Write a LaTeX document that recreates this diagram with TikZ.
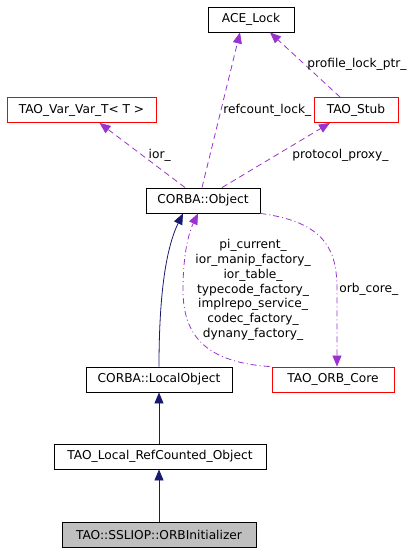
\documentclass[tikz,border=0pt]{standalone}
\usepackage{fontspec}
\setmainfont{DejaVu Sans}
\usetikzlibrary{arrows.meta,positioning,calc}
\definecolor{usecol}{HTML}{9A32CD}
\definecolor{inhcol}{HTML}{191970}

\begin{document}
\begin{tikzpicture}[x=1bp,y=1bp,
		font=\fontsize{12.2bp}{14.8bp}\selectfont,
		>={Triangle[length=11bp,width=9bp]},
		cls/.style={draw,line width=0.9bp,minimum height=25bp,inner sep=0pt},
		refcls/.style={cls,draw=red},
		uses/.style={usecol,line width=0.8bp,dash pattern=on 6bp off 4bp},
		usesdot/.style={usecol,line width=0.8bp,dash pattern=on 6bp off 3bp on 1bp off 3bp},
		inh/.style={inhcol,line width=0.8bp},
		lbl/.style={text=black,inner sep=2bp}]
		\useasboundingbox (0,0) rectangle (415,-552);
		% classes
		\node[cls,minimum width=86bp] (acelock) at (251,-19.5) {ACE\_Lock};
		\node[refcls,minimum width=149bp] (varvar) at (81.5,-110) {TAO\_Var\_Var\_T\textless\ T \textgreater};
		\node[refcls,minimum width=84bp] (stub) at (356,-110) {TAO\_Stub};
		\node[cls,minimum width=114bp] (object) at (203,-200.5) {CORBA::Object};
		\node[cls,minimum width=146bp] (localobj) at (159,-379.5) {CORBA::LocalObject};
		\node[refcls,minimum width=122bp] (orbcore) at (333,-379.5) {TAO\_ORB\_Core};
		\node[cls,minimum width=212bp] (refcounted) at (160,-456.5) {TAO\_Local\_RefCounted\_Object};
		\node[cls,minimum width=194bp,fill=black!25] (orbinit) at (159,-534.5) {TAO::SSLIOP::ORBInitializer};
		% usage
		\draw[uses,->] ([xshift=-1bp]object.north) -- ([xshift=-11bp]acelock.south) node[midway,right,lbl]{refcount\_lock\_};
		\draw[uses,->] ([xshift=-16bp]stub.north) -- ([xshift=19bp]acelock.south) node[midway,right,lbl]{profile\_lock\_ptr\_};
		\draw[uses,->] ([xshift=-18bp]object.north) -- ([xshift=18bp]varvar.south) node[midway,right,lbl,xshift=4bp]{ior\_};
		\draw[uses,->] ([xshift=19bp]object.north) -- ([xshift=-26bp]stub.south) node[midway,right,lbl,xshift=14bp]{protocol\_proxy\_};
		\draw[usesdot,->] (object.south east) .. controls (325,-222) and (337,-250) .. (337,-289)
			node[right,lbl]{orb\_core\_} -- ([xshift=4bp]orbcore.north);
		\draw[usesdot,->] ([xshift=-2bp]orbcore.north west) .. controls (205,-362) and (183,-335) .. (183,-290)
			node[right,lbl,xshift=10bp,align=center]{pi\_current\_\\ior\_manip\_factory\_\\ior\_table\_\\typecode\_factory\_\\implrepo\_service\_\\codec\_factory\_\\dynany\_factory\_}
			.. controls (183,-250) and (190,-230) .. ([xshift=-5bp]object.south);
		% inheritance
		\draw[inh,->] (localobj.north) .. controls (159,-300) and (165,-250) .. ([xshift=-20bp]object.south);
		\draw[inh,->] (refcounted.north -| localobj) -- (localobj.south);
		\draw[inh,->] (orbinit.north) -- (orbinit.north |- refcounted.south);
\end{tikzpicture}
\end{document}
